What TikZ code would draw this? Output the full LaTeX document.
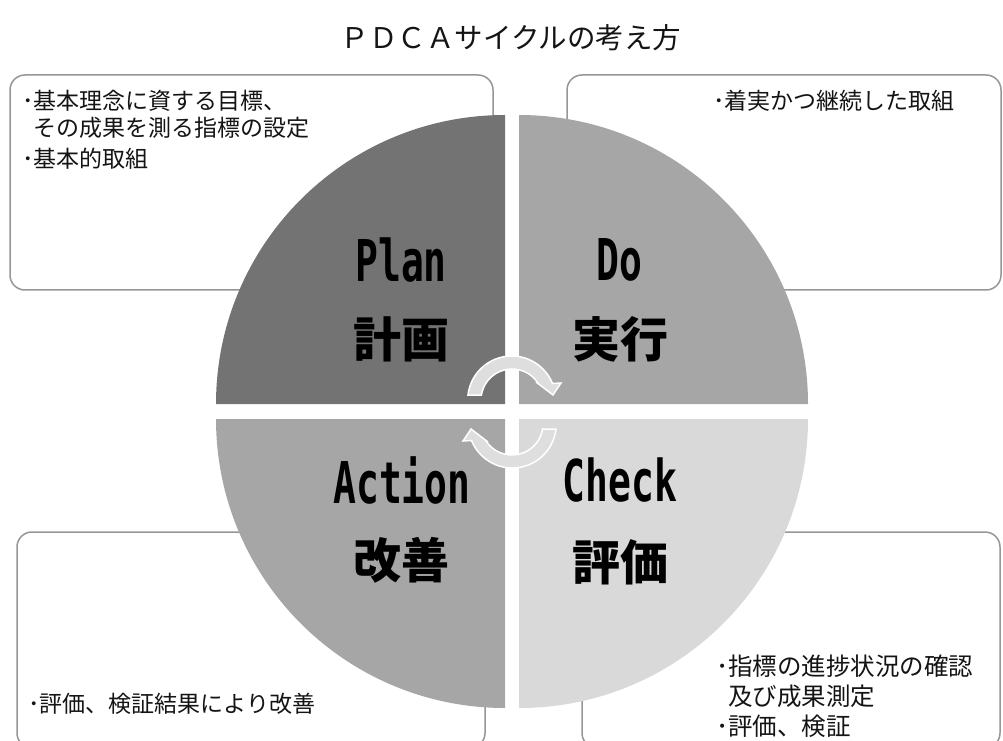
\documentclass[tikz,border=0pt]{standalone}
\usepackage{fontspec}
\setmainfont{Noto Sans CJK JP}
\newfontfamily\pdcafont{DejaVu Sans Mono}[FakeStretch=0.66]
\usetikzlibrary{positioning}

\definecolor{plangray}{RGB}{115,115,115}
\definecolor{dogray}{RGB}{166,166,166}
\definecolor{actgray}{RGB}{166,166,166}
\definecolor{checkgray}{RGB}{217,217,217}
\definecolor{boxline}{RGB}{150,150,150}
\definecolor{arrowgray}{RGB}{222,222,222}
\definecolor{textblack}{RGB}{20,20,20}

\begin{document}
\begin{tikzpicture}[x=1pt, y=1pt,
    notebox/.style={draw=boxline, line width=1.5pt, rounded corners=15pt, fill=white, inner sep=0pt},
    notetext/.style={anchor=north west, align=left, inner sep=0pt, text=textblack, font=\fontsize{23}{27}\selectfont},
    cyclelatin/.style={font=\pdcafont\bfseries\fontsize{57.6}{60}\selectfont, inner sep=0pt},
    cyclejp/.style={font=\bfseries\fontsize{48}{50}\selectfont, inner sep=0pt},
    cyclearrow/.pic={
        \filldraw[fill=arrowgray, draw=white, line width=1.5pt]
            (-31,5) -- (-44,5) arc[start angle=173.5, end angle=22, radius=44pt]
            -- (49,17) -- (41,5) -- (24,18) -- (26.3,16.4)
            arc[start angle=32, end angle=170.7, radius=31pt] -- cycle;
    }]
    \useasboundingbox (0,0) rectangle (1003,740);

    % title
    \node[font=\fontsize{28.5}{30}\selectfont, text=textblack] (title) at (511,702) {ＰＤＣＡサイクルの考え方};

    % note boxes behind the circle
    \node[notebox, minimum width=483pt, minimum height=215pt] (planbox) at (251.5,557.5) {};
    \node[notebox, minimum width=434pt, minimum height=215pt] (dobox) at (784,557.5) {};
    \node[notebox, minimum width=468pt, minimum height=216pt] (actbox) at (251,100) {};
    \node[notebox, minimum width=418pt, minimum height=216pt] (checkbox) at (791,100) {};

    % the four quarters
    \fill[plangray] (505,336) -- ++(-289,0) arc[start angle=180, end angle=90, radius=289pt] -- cycle;
    \fill[dogray] (519,336) -- ++(0,289) arc[start angle=90, end angle=0, radius=289pt] -- cycle;
    \fill[actgray] (505,321) -- ++(-289,0) arc[start angle=180, end angle=270, radius=289pt] -- cycle;
    \fill[checkgray] (519,321) -- ++(289,0) arc[start angle=0, end angle=-90, radius=289pt] -- cycle;

    % cycle arrows
    \pic at (512,340) {cyclearrow};
    \pic[rotate=180] at (512,316) {cyclearrow};

    % quarter labels
    \node[cyclelatin] (plan) at (401,480) {Plan};
    \node[cyclejp] (plankanji) at (401,401) {計画};
    \node[cyclelatin] (do) at (619,480) {Do};
    \node[cyclejp] (dokanji) at (620,401) {実行};
    \node[cyclelatin] (action) at (402,260) {Action};
    \node[cyclejp] (actkanji) at (401,180) {改善};
    \node[cyclelatin] (check) at (620,260) {Check};
    \node[cyclejp] (checkkanji) at (620,178) {評価};

    % box texts
    \node[notetext] (plantext) at (22,650) {･基本理念に資する目標、\\\phantom{･}その成果を測る指標の設定\\[4pt]･基本的取組};
    \node[notetext] (dotext) at (713,650) {･着実かつ継続した取組};
    \node[notetext] (acttext) at (28,47) {･評価、検証結果により改善};
    \node[notetext, font=\fontsize{24.5}{30}\selectfont] (checktext) at (716,85) {･指標の進捗状況の確認\\\phantom{･}及び成果測定\\･評価、検証};
\end{tikzpicture}
\end{document}
